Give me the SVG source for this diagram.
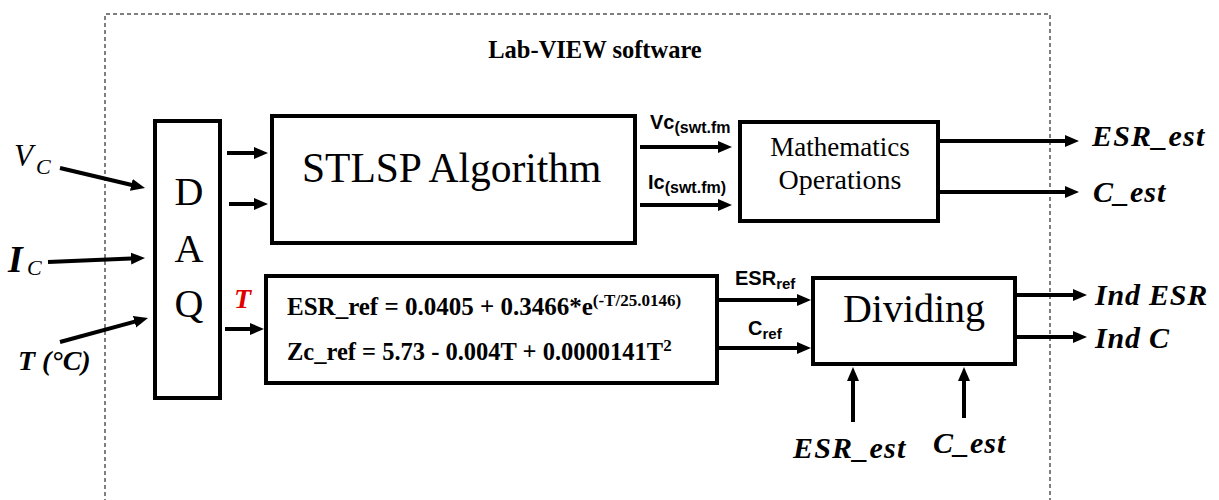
<svg xmlns="http://www.w3.org/2000/svg" width="1219" height="500" viewBox="0 0 1219 500">
<style>
.box{fill:#fff;stroke:#000;stroke-width:4}
.arr{stroke:#000;stroke-width:4;fill:none;marker-end:url(#ah)}
.serif{font-family:'Liberation Serif','DejaVu Serif',serif;fill:#000}
.bi{font-family:'Liberation Serif','DejaVu Serif',serif;font-weight:bold;font-style:italic;fill:#000}
.sans{font-family:'Liberation Sans','DejaVu Sans',sans-serif;font-weight:bold;fill:#000}
</style>
<defs>
<marker id="ah" markerUnits="userSpaceOnUse" markerWidth="16" markerHeight="14" refX="6" refY="7" orient="auto">
<path d="M0,1 L14,7 L0,13 z" fill="#000"/>
</marker>
</defs>
<rect width="1219" height="500" fill="#fff"/>
<g id="frame">
<path d="M105,510 V14 H1050 V510" fill="none" stroke="#555" stroke-width="1.5" stroke-dasharray="4,3"/>
<text class="serif" x="595" y="58" font-size="24.5" font-weight="bold" text-anchor="middle">Lab-VIEW software</text>
</g>
<g id="inputs">
<text class="serif" x="14" y="166" font-size="31" font-style="italic">V</text>
<text class="serif" x="36" y="174" font-size="22" font-style="italic">C</text>
<text class="bi" x="8" y="272" font-size="38">I</text>
<text class="serif" x="27" y="275" font-size="22" font-style="italic">C</text>
<text class="bi" x="18" y="370" font-size="28">T (°C)</text>
</g>
<g id="daq">
<rect class="box" x="155" y="121" width="65" height="277"/>
<text class="serif" x="189" y="205" font-size="40" text-anchor="middle">D</text>
<text class="serif" x="189" y="262" font-size="40" text-anchor="middle">A</text>
<text class="serif" x="189" y="317" font-size="40" text-anchor="middle">Q</text>
</g>
<g id="stlsp">
<rect class="box" x="272" y="116" width="363" height="127"/>
<text class="serif" x="302" y="182" font-size="41.5">STLSP Algorithm</text>
</g>
<g id="math">
<rect class="box" x="740" y="122" width="198" height="99"/>
<text class="serif" x="840" y="156" font-size="27" text-anchor="middle">Mathematics</text>
<text class="serif" x="840" y="189" font-size="28" text-anchor="middle">Operations</text>
</g>
<g id="equations">
<rect class="box" x="266" y="276" width="451" height="107"/>
<text class="serif" x="287" y="315" font-size="25" font-weight="bold">ESR_ref = 0.0405 + 0.3466*e<tspan font-size="17" dy="-9">(-T/25.0146)</tspan></text>
<text class="serif" x="287" y="360" font-size="24.5" font-weight="bold">Zc_ref = 5.73 - 0.004T + 0.0000141T<tspan font-size="17" dy="-9">2</tspan></text>
</g>
<g id="dividing">
<rect class="box" x="813" y="278" width="202" height="86"/>
<text class="serif" x="914" y="322" font-size="40" text-anchor="middle">Dividing</text>
</g>
<g id="labels">
<text class="bi" x="234" y="308" font-size="28" style="fill:#e00000">T</text>
<text class="sans" x="650" y="129" font-size="20">Vc<tspan font-size="16" dy="4">(swt.fm</tspan></text>
<text class="sans" x="648" y="189" font-size="20">Ic<tspan font-size="16" dy="4">(swt.fm)</tspan></text>
<text class="sans" x="735" y="285" font-size="20">ESR<tspan font-size="15" dy="4">ref</tspan></text>
<text class="sans" x="748" y="335" font-size="20">C<tspan font-size="15" dy="4">ref</tspan></text>
<text class="bi" x="1092" y="146" font-size="30" letter-spacing="1.2">ESR_est</text>
<text class="bi" x="1093" y="202" font-size="30" letter-spacing="1">C_est</text>
<text class="bi" x="1095" y="305" font-size="30" letter-spacing="0.8">Ind ESR</text>
<text class="bi" x="1095" y="348" font-size="30" letter-spacing="0.8">Ind C</text>
<text class="bi" x="793" y="458" font-size="30" letter-spacing="1.2">ESR_est</text>
<text class="bi" x="933" y="453" font-size="30" letter-spacing="1">C_est</text>
</g>
<g id="connectors">
<line class="arr" x1="60" y1="168" x2="137.2" y2="186.2"/>
<line class="arr" x1="48" y1="262" x2="137" y2="258.3"/>
<line class="arr" x1="60" y1="342" x2="140.3" y2="320.1"/>
<line class="arr" x1="227" y1="153" x2="260" y2="153"/>
<line class="arr" x1="229" y1="204" x2="260" y2="204"/>
<line class="arr" x1="225" y1="329" x2="256" y2="329"/>
<line class="arr" x1="640" y1="147" x2="724" y2="147"/>
<line class="arr" x1="640" y1="205" x2="724" y2="205"/>
<line class="arr" x1="940" y1="141" x2="1071" y2="141"/>
<line class="arr" x1="940" y1="192" x2="1071" y2="192"/>
<line class="arr" x1="718" y1="300" x2="803" y2="300"/>
<line class="arr" x1="718" y1="348" x2="803" y2="348"/>
<line class="arr" x1="1017" y1="295" x2="1079" y2="295"/>
<line class="arr" x1="1017" y1="337" x2="1079" y2="337"/>
<line class="arr" x1="853" y1="422" x2="853" y2="375"/>
<line class="arr" x1="964" y1="418" x2="964" y2="375"/>
</g>
</svg>
